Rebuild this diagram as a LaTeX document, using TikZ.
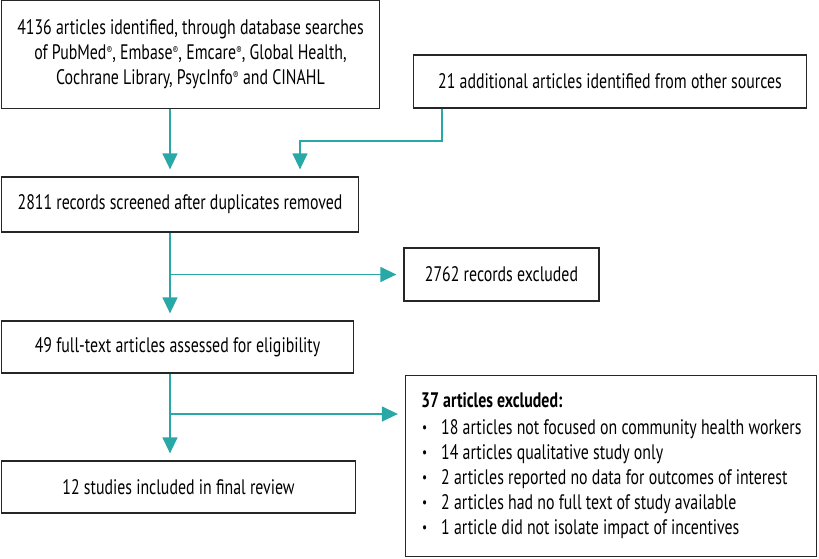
\documentclass[tikz,border=0pt]{standalone}
\usepackage{fontspec}
\setmainfont{PT Sans}[FakeStretch=0.755]
\usetikzlibrary{arrows.meta,calc}
\definecolor{teal1}{RGB}{40,168,166}
\newcommand{\rmark}{\raisebox{0.5ex}{\fontsize{11}{11}\selectfont ®}}
\newcommand{\bul}{\makebox[20pt][l]{\hspace{1pt}\raisebox{0.15ex}{\fontsize{15}{15}\selectfont\textbullet}}}
\begin{document}
\begin{tikzpicture}[x=1pt,y=-1pt,
  box/.style={draw=black!85,line width=1.3pt,inner sep=0pt,align=center,font=\fontsize{21}{25}\selectfont},
  conn/.style={draw=teal1,line width=1.4pt},
  arr/.style={conn,-{Triangle[width=15pt,length=16pt]},shorten >=7pt}]
\useasboundingbox (0,0) rectangle (819,558);
\node[box,minimum width=378pt,minimum height=108pt] (b1) at (190.5,54.5)
  {4136 articles identified, through database searches\\
   of PubMed\rmark, Embase\rmark, Emcare\rmark, Global Health,\\
   Cochrane Library, PsycInfo\rmark{} and CINAHL};
\node[box,minimum width=393pt,minimum height=53pt] (b2) at (610,81.5)
  {21 additional articles identified from other sources};
\node[box,minimum width=357pt,minimum height=55pt] (b3) at (180,204.5)
  {2811 records screened after duplicates removed};
\node[box,minimum width=195pt,minimum height=53pt] (b4) at (501.5,274.5)
  {2762 records excluded};
\node[box,minimum width=352pt,minimum height=52pt] (b5) at (177.5,347)
  {49 full-text articles assessed for eligibility};
\node[box,minimum width=354pt,minimum height=52pt] (b6) at (178.5,487)
  {12 studies included in final review};
\node[box,minimum width=411pt,minimum height=181pt] (b7) at (611,466) {};
\node[anchor=north west,inner sep=0pt,align=left,font=\fontsize{21}{25}\selectfont] (t7) at (421,392)
  {\textbf{37 articles excluded:}\\[2pt]
   \bul 18 articles not focused on community health workers\\
   \bul 14 articles qualitative study only\\
   \bul 2 articles reported no data for outcomes of interest\\
   \bul 2 articles had no full text of study available\\
   \bul 1 article did not isolate impact of incentives};
\coordinate (cx) at (170,0);
\coordinate (k1) at (442,141);
\coordinate (k2) at (300,141);
\coordinate (j1) at (170,274.5);
\coordinate (j2) at (170,414);
\draw[arr] (b1.south -| cx) -- (b3.north -| cx);
\draw[arr] (b2.south -| k1) -- (k1) -- (k2) -- (k2 |- b3.north);
\draw[arr] (b3.south -| cx) -- (b5.north -| cx);
\draw[arr] (j1) -- (b4.west);
\draw[arr] (b5.south -| cx) -- (b6.north -| cx);
\draw[arr] (j2) -- (j2 -| b7.west);
\end{tikzpicture}
\end{document}
